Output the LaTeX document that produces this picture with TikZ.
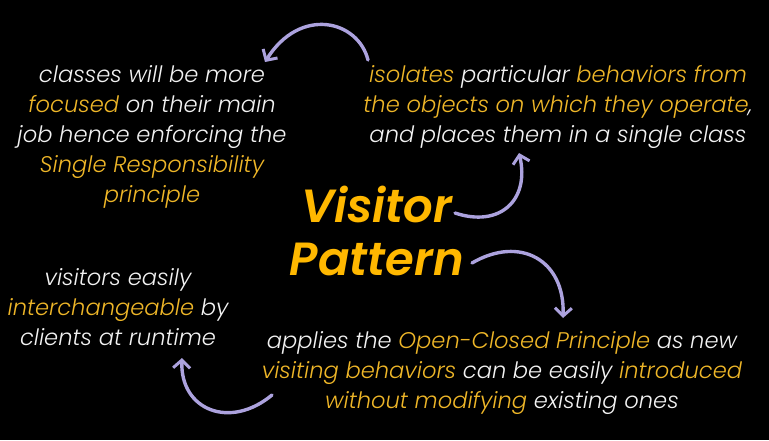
\documentclass[tikz,border=0pt]{standalone}
\usepackage{fontspec}
\usetikzlibrary{arrows.meta}
\newfontfamily\bodyfont{Poppins Light Italic}
\newfontfamily\titlefont{Poppins SemiBold Italic}
\definecolor{bg}{RGB}{0,0,0}
\definecolor{txt}{RGB}{242,242,242}
\definecolor{hl}{RGB}{238,182,40}
\definecolor{ttl}{RGB}{255,184,0}
\definecolor{lav}{RGB}{172,162,222}
\newcommand\hlt[1]{\textcolor{hl}{#1}}
\begin{document}
\begin{tikzpicture}[x=1pt,y=-1pt,
  blurb/.style={text=txt, font=\bodyfont\fontsize{22.6}{30}\selectfont, align=center, inner sep=0pt},
  headline/.style={text=ttl, font=\titlefont\fontsize{46.5}{53}\selectfont, align=center, inner sep=0pt},
  brush/.style={draw=lav, line width=3.4pt, line cap=round,
    -{Straight Barb[length=8pt,width=17pt,line width=3pt]}}]
  \fill[bg] (0,0) rectangle (769,440);
  \useasboundingbox (0,0) rectangle (769,440);

  % centre title (anchored at the baseline of its last line)
  \node[headline, anchor=base] (title) at (377,275) {Visitor\\Pattern};

  % the four benefits
  \node[blurb, anchor=base] (single) at (152,202)
    {classes will be more\\\hlt{focused} on their main\\job hence enforcing the\\\hlt{Single Responsibility}\\\hlt{principle}};
  \node[blurb, anchor=base] (isolate) at (558,142)
    {\hlt{isolates} particular \hlt{behaviors from}\\\hlt{the objects on which they operate},\\and places them in a single class};
  \node[blurb, anchor=base] (openclosed) at (502,408)
    {applies the \hlt{Open-Closed Principle} as new\\\hlt{visiting behaviors} can be easily \hlt{introduced}\\\hlt{without modifying} existing ones};
  \node[blurb, anchor=base] (swap) at (118,345)
    {visitors easily\\\hlt{interchangeable} by\\clients at runtime};

  % brush-stroke arrows between the blocks
  \coordinate (a1s) at (368,60);  \coordinate (a1e) at (265,62);
  \coordinate (a2s) at (455,213); \coordinate (a2e) at (519,153);
  \coordinate (a3s) at (472,263); \coordinate (a3e) at (563,318);
  \coordinate (a4s) at (272,395); \coordinate (a4e) at (182,358);

  \draw[brush] (a1s) .. controls (358,20) and (300,6) .. (a1e);
  \draw[brush] (a2s) .. controls (500,228) and (530,200) .. (a2e);
  \draw[brush] (a3s) .. controls (520,235) and (565,260) .. (a3e);
  \draw[brush] (a4s) .. controls (230,430) and (180,410) .. (a4e);
\end{tikzpicture}
\end{document}
